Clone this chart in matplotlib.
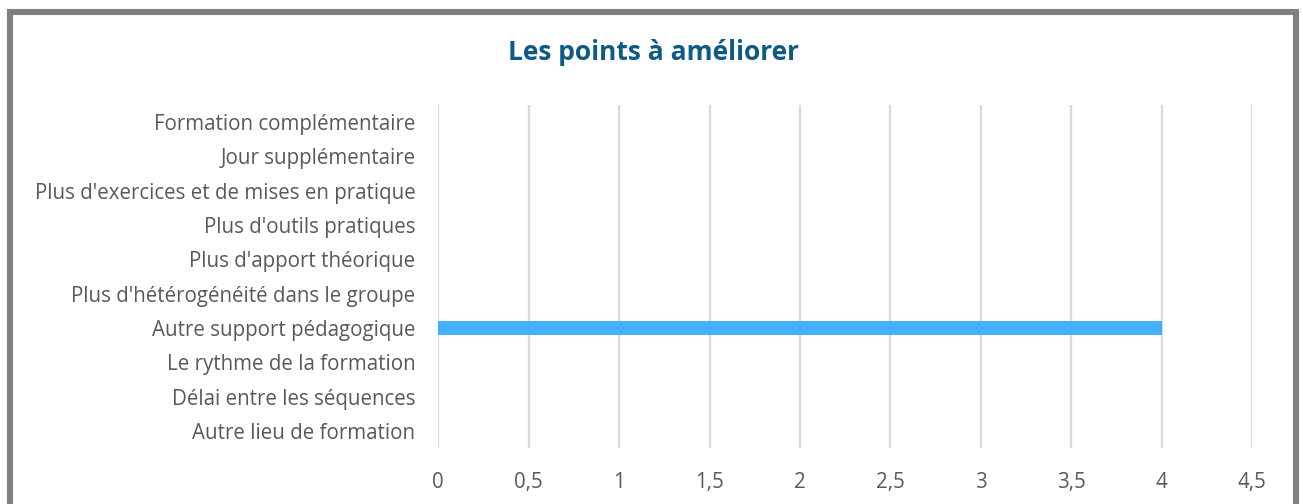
import matplotlib.pyplot as plt
from matplotlib.patches import Rectangle

# data (bottom to top, as drawn)
categories = ["Autre lieu de formation",
              "Délai entre les séquences",
              "Le rythme de la formation",
              "Autre support pédagogique",
              "Plus d'hétérogénéité dans le groupe",
              "Plus d'apport théorique",
              "Plus d'outils pratiques",
              "Plus d'exercices et de mises en pratique",
              "Jour supplémentaire",
              "Formation complémentaire"]
values = [0, 0, 0, 4, 0, 0, 0, 0, 0, 0]
xticks = [0, 0.5, 1, 1.5, 2, 2.5, 3, 3.5, 4, 4.5]
xtick_labels = ["0", "0,5", "1", "1,5", "2", "2,5", "3", "3,5", "4", "4,5"]

plt.rcParams['font.family'] = ['Open Sans', 'DejaVu Sans']

fig = plt.figure(figsize=(13.03, 5.04), dpi=100)
fig.patch.set_facecolor('white')

# grey frame around the chart
W, H = 1303, 504
frame = Rectangle((10 / W, -0.1), (1296 - 10) / W, (1 - 12 / H) + 0.1,
                  transform=fig.transFigure, fill=False,
                  edgecolor='#808080', linewidth=4.4, zorder=10)
fig.patches.append(frame)

ax = fig.add_axes([438.3 / W, 1 - 448 / H, (1252 - 438.3) / W, (448 - 105) / H])
ax.barh(range(len(categories)), values, height=0.41, color='#45B0FF', zorder=3)

ax.set_xlim(0, 4.5)
ax.set_ylim(-0.5, len(categories) - 0.5)
ax.set_xticks(xticks)
ax.set_xticklabels(xtick_labels)
ax.set_yticks(range(len(categories)))
ax.set_yticklabels(categories)

for s in ax.spines.values():
    s.set_visible(False)
ax.tick_params(axis='both', length=0, labelsize=14.8, colors='#595959')
ax.tick_params(axis='y', pad=16.5)
ax.tick_params(axis='x', pad=17.5)
ax.xaxis.grid(True, color='#D9D9D9', linewidth=1.6, zorder=0)
ax.set_axisbelow(True)

fig.text(653 / W, 1 - 59.5 / H, "Les points à améliorer", ha='center', va='baseline',
         fontsize=19, fontweight='bold', color='#0E5A85')

fig.savefig("out.png", dpi=100)
